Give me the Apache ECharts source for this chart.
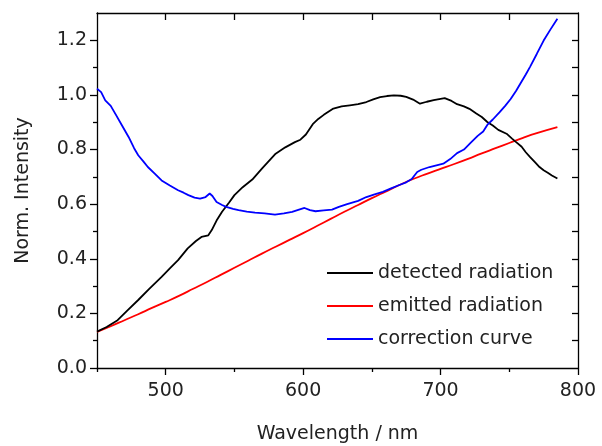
<!DOCTYPE html>
<html>
<head>
<meta charset="utf-8">
<script src="https://cdn.jsdelivr.net/npm/echarts@6/dist/echarts.min.js"></script>
<style>
  html, body { margin: 0; padding: 0; background: #fff; }
  #chart { width: 602px; height: 446px; }
</style>
</head>
<body>
<div id="chart"></div>
<script>
// values (wavelength in nm, normalised intensity)
var detectedX = [450, 457, 465, 472, 480, 488, 497, 503, 509, 516, 522, 526, 531, 533.5, 537, 541, 546, 550, 556, 563, 570, 580, 587, 594, 598, 602, 607, 611, 615, 622, 628, 634, 640, 646, 651, 656, 661, 666, 671, 675, 680, 685, 690, 695, 699, 703, 708, 712, 717, 721, 726, 730, 734, 738, 742, 748, 752, 755, 759, 762, 765, 769, 772, 775, 778, 781, 785];
var detectedY = [0.133, 0.150, 0.175, 0.210, 0.249, 0.290, 0.334, 0.365, 0.395, 0.438, 0.465, 0.480, 0.486, 0.505, 0.540, 0.572, 0.605, 0.633, 0.662, 0.690, 0.730, 0.785, 0.808, 0.827, 0.836, 0.855, 0.893, 0.912, 0.927, 0.950, 0.958, 0.962, 0.966, 0.974, 0.984, 0.992, 0.996, 0.998, 0.997, 0.993, 0.983, 0.968, 0.975, 0.981, 0.985, 0.988, 0.978, 0.966, 0.958, 0.949, 0.932, 0.919, 0.901, 0.888, 0.872, 0.858, 0.840, 0.827, 0.810, 0.790, 0.773, 0.752, 0.736, 0.724, 0.715, 0.705, 0.694];

var emittedX = [450, 460, 470, 480, 490, 500, 510, 520, 530, 540, 550, 560, 570, 580, 590, 600, 610, 620, 630, 640, 650, 660, 670, 680, 690, 700, 710, 720, 730, 740, 750, 760, 770, 785];
var emittedY = [0.132, 0.153, 0.175, 0.197, 0.220, 0.242, 0.265, 0.290, 0.315, 0.341, 0.367, 0.393, 0.419, 0.444, 0.469, 0.494, 0.520, 0.546, 0.572, 0.597, 0.622, 0.646, 0.670, 0.692, 0.711, 0.729, 0.747, 0.766, 0.786, 0.805, 0.824, 0.843, 0.860, 0.882];

var correctionX = [450, 453, 456, 460, 464, 468, 473, 477, 480, 484, 487, 492, 497, 503, 509, 513, 516.5, 521, 525, 529, 532, 534, 537, 541, 544, 549, 553, 559, 565, 572, 579.5, 586, 592, 597, 601, 605, 609, 615, 621, 626, 632, 640, 646, 652, 658, 664, 670, 675, 679, 683, 686, 692, 697, 702, 707, 712, 717, 722, 727, 731, 734, 738, 743, 747, 751, 755, 758, 762, 765, 770, 775, 780, 785];
var correctionY = [1.023, 1.010, 0.980, 0.960, 0.925, 0.890, 0.846, 0.805, 0.779, 0.755, 0.736, 0.712, 0.687, 0.668, 0.651, 0.642, 0.633, 0.624, 0.620, 0.626, 0.639, 0.630, 0.608, 0.597, 0.590, 0.583, 0.578, 0.573, 0.569, 0.566, 0.562, 0.566, 0.572, 0.580, 0.586, 0.578, 0.574, 0.577, 0.580, 0.590, 0.600, 0.612, 0.626, 0.636, 0.645, 0.658, 0.670, 0.680, 0.692, 0.718, 0.726, 0.736, 0.742, 0.748, 0.765, 0.787, 0.800, 0.825, 0.850, 0.866, 0.890, 0.910, 0.937, 0.960, 0.985, 1.015, 1.041, 1.075, 1.102, 1.150, 1.199, 1.240, 1.279];

var seriesNames = ["detected radiation", "emitted radiation", "correction curve"];
var seriesColors = ["#000000", "#ff0000", "#0000ff"];

var xMajorTicks = [500, 600, 700, 800];
var xMinorTicks = [450, 550, 650, 750];
var xTopTicks = [500, 550, 600, 650, 700, 750];
var yMajorTicks = [0, 0.2, 0.4, 0.6, 0.8, 1.0, 1.2];
var yMinorTicks = [0.1, 0.3, 0.5, 0.7, 0.9, 1.1];
var yRightTicks = [0.1, 0.2, 0.3, 0.4, 0.5, 0.6, 0.7, 0.8, 0.9, 1.0, 1.1, 1.2];

function pairs(xs, ys) {
  var out = [];
  for (var i = 0; i < xs.length; i++) {
    out.push([xs[i], ys[i]]);
  }
  return out;
}

var FONT = "DejaVu Sans";
var TEXT = "#222";
var lineStyle = { color: "#000", width: 1.3 };

var chart = echarts.init(document.getElementById("chart"));

var makeX = function (extra) {
  return Object.assign({
    type: "value",
    min: 450,
    max: 800,
    splitLine: { show: false },
    axisLabel: { show: false },
    axisLine: { show: false }
  }, extra);
};
var makeY = function (extra) {
  return Object.assign({
    type: "value",
    min: 0,
    max: 1.3,
    splitLine: { show: false },
    axisLabel: { show: false },
    axisLine: { show: false }
  }, extra);
};

var option = {
  animation: false,
  backgroundColor: "#fff",
  grid: { left: 97, right: 24, top: 13, bottom: 78, containLabel: false, outerBoundsMode: "none" },
  xAxis: [
    makeX({
      position: "bottom",
      axisLine: { show: true, onZero: false, lineStyle: lineStyle },
      axisTick: { show: true, customValues: xMajorTicks, length: 7, lineStyle: lineStyle },
      axisLabel: {
        show: true,
        customValues: xMajorTicks,
        margin: 14,
        fontFamily: FONT,
        fontSize: 19,
        color: TEXT
      },
      name: "Wavelength / nm",
      nameLocation: "middle",
      nameGap: 57,
      nameTextStyle: { fontFamily: FONT, fontSize: 19, color: TEXT }
    }),
    makeX({
      position: "bottom",
      axisTick: { show: true, customValues: xMinorTicks, length: 4, lineStyle: lineStyle }
    }),
    makeX({
      position: "top",
      axisLine: { show: true, onZero: false, lineStyle: lineStyle },
      axisTick: { show: true, inside: true, customValues: xTopTicks, length: 7, lineStyle: lineStyle }
    })
  ],
  yAxis: [
    makeY({
      position: "left",
      axisLine: { show: true, onZero: false, lineStyle: lineStyle },
      axisTick: { show: true, customValues: yMajorTicks, length: 7, lineStyle: lineStyle },
      axisLabel: {
        show: true,
        customValues: yMajorTicks,
        margin: 10,
        fontFamily: FONT,
        fontSize: 19,
        color: TEXT,
        formatter: function (v) { return v.toFixed(1); }
      },
      name: "Norm. Intensity",
      nameLocation: "middle",
      nameGap: 64,
      nameTextStyle: { fontFamily: FONT, fontSize: 19, color: TEXT }
    }),
    makeY({
      position: "left",
      axisTick: { show: true, customValues: yMinorTicks, length: 4, lineStyle: lineStyle }
    }),
    makeY({
      position: "right",
      axisLine: { show: true, onZero: false, lineStyle: lineStyle },
      axisTick: { show: true, inside: true, customValues: yRightTicks, length: 6, lineStyle: lineStyle }
    })
  ],
  legend: {
    orient: "vertical",
    left: 327,
    top: 262,
    icon: "rect",
    itemWidth: 46,
    itemHeight: 2,
    itemGap: 11,
    padding: 0,
    data: seriesNames,
    textStyle: { fontFamily: FONT, fontSize: 19, color: TEXT, lineHeight: 22 }
  },
  series: [
    {
      name: seriesNames[0],
      type: "line",
      data: pairs(detectedX, detectedY),
      showSymbol: false,
      symbol: "none",
      color: seriesColors[0],
      lineStyle: { color: seriesColors[0], width: 1.8 },
      z: 3
    },
    {
      name: seriesNames[1],
      type: "line",
      data: pairs(emittedX, emittedY),
      showSymbol: false,
      symbol: "none",
      smooth: true,
      color: seriesColors[1],
      lineStyle: { color: seriesColors[1], width: 1.8 },
      z: 2
    },
    {
      name: seriesNames[2],
      type: "line",
      data: pairs(correctionX, correctionY),
      showSymbol: false,
      symbol: "none",
      color: seriesColors[2],
      lineStyle: { color: seriesColors[2], width: 1.8 },
      z: 4
    }
  ]
};

chart.setOption(option);
</script>
</body>
</html>
